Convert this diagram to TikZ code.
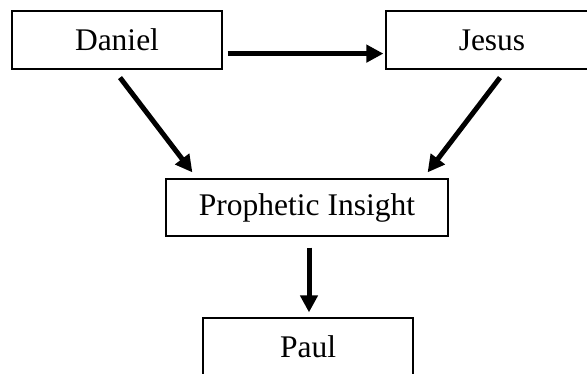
\documentclass[tikz,border=0pt]{standalone}
\usepackage{fontspec}
\setmainfont{Liberation Serif}
\usetikzlibrary{arrows.meta}
\begin{document}
\begin{tikzpicture}[x=1pt,y=1pt,
  box/.style={draw=black,line width=1.2pt,fill=white,minimum height=58pt,inner sep=0pt,
    font=\fontsize{31.5}{36}\selectfont},
  arr/.style={line width=5pt,-{Triangle[length=17pt,width=17pt]}}]
\fill[white] (0,0) rectangle (587,-373);
\clip (0,0) rectangle (587,-373);
\node[box,minimum width=210pt] (daniel) at (117,-40) {Daniel};
\node[box,minimum width=212pt] (jesus) at (492,-40) {Jesus};
\node[box,minimum width=282pt,minimum height=57pt] (insight) at (307,-207.5) {Prophetic Insight};
\node[box,minimum width=210pt] (paul) at (308,-347) {Paul};
\draw[arr] ([xshift=5pt,yshift=16pt]daniel.south east) -- ([xshift=-2pt,yshift=16pt]jesus.south west);
\draw[arr] ([xshift=3pt,yshift=-8pt]daniel.south) -- ([xshift=27pt,yshift=6pt]insight.north west);
\draw[arr] ([xshift=8pt,yshift=-8pt]jesus.south) -- ([xshift=-21pt,yshift=6pt]insight.north east);
\draw[arr] ([xshift=2pt,yshift=-11pt]insight.south) -- ([xshift=1pt,yshift=5pt]paul.north);
\end{tikzpicture}
\end{document}
